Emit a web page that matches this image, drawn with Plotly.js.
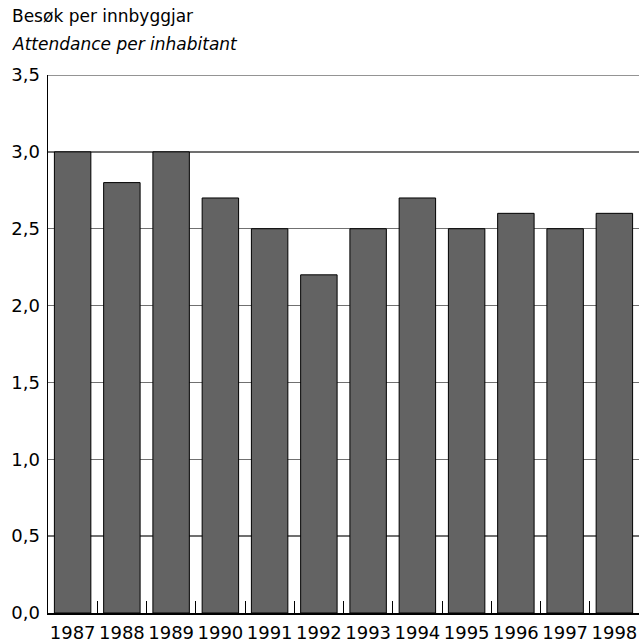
<!DOCTYPE html>
<html><head><meta charset="utf-8">
<script src="https://cdn.plot.ly/plotly-3.0.1.min.js"></script>
<style>html,body{margin:0;padding:0;background:#fff}</style>
</head><body>
<div id="chart" style="width:639px;height:643px"></div>
<script>
var years = ["1987","1988","1989","1990","1991","1992","1993","1994","1995","1996","1997","1998"];
var attendance = [3.0, 2.8, 3.0, 2.7, 2.5, 2.2, 2.5, 2.7, 2.5, 2.6, 2.5, 2.6];
var yTicks = [0, 0.5, 1, 1.5, 2, 2.5, 3, 3.5];

var fontFam = "DejaVu Sans, sans-serif";
Plotly.newPlot("chart", [{
  type: "bar",
  x: years,
  y: attendance,
  marker: {color: "#636363", line: {color: "#000", width: 1}},
  width: 0.74,
  hoverinfo: "none"
}], {
  width: 639, height: 643,
  margin: {l: 48, r: 0, t: 75, b: 30},
  separators: ", ",
  paper_bgcolor: "#fff", plot_bgcolor: "#fff",
  showlegend: false,
  font: {family: fontFam, color: "#000"},
  xaxis: {
    type: "category",
    tickson: "boundaries",
    ticks: "inside", ticklen: 12, tickcolor: "#000", tickwidth: 1,
    showline: true, linecolor: "#000", linewidth: 1.5,
    showgrid: false,
    tickangle: 0,
    ticklabelstandoff: 3,
    tickfont: {size: 18, family: fontFam},
    fixedrange: true
  },
  yaxis: {
    range: [0, 3.5],
    tickvals: yTicks,
    tickformat: ".1f",
    showgrid: true, gridcolor: "#707070", gridwidth: 1.5,
    showline: true, linecolor: "#000", linewidth: 1.5,
    zeroline: false,
    ticks: "", ticklabelstandoff: 3,
    tickfont: {size: 18, family: fontFam},
    fixedrange: true
  },
  shapes: [
    {type: "line", xref: "paper", yref: "y", x0: 0, x1: 1, y0: 3.5, y1: 3.5, line: {color: "#707070", width: 1.5}, layer: "below"}
  ],
  annotations: [
    {text: "Besøk per innbyggjar", xref: "paper", yref: "paper", x: -48/591, y: 1 + 59/538, xanchor: "left", yanchor: "middle", showarrow: false, font: {size: 17, family: fontFam}, xshift: 10},
    {text: "<i>Attendance per inhabitant</i>", xref: "paper", yref: "paper", x: -48/591, y: 1 + 31/538, xanchor: "left", yanchor: "middle", showarrow: false, font: {size: 17, family: fontFam}, xshift: 10}
  ]
}, {displayModeBar: false, staticPlot: true});
</script>
</body></html>
